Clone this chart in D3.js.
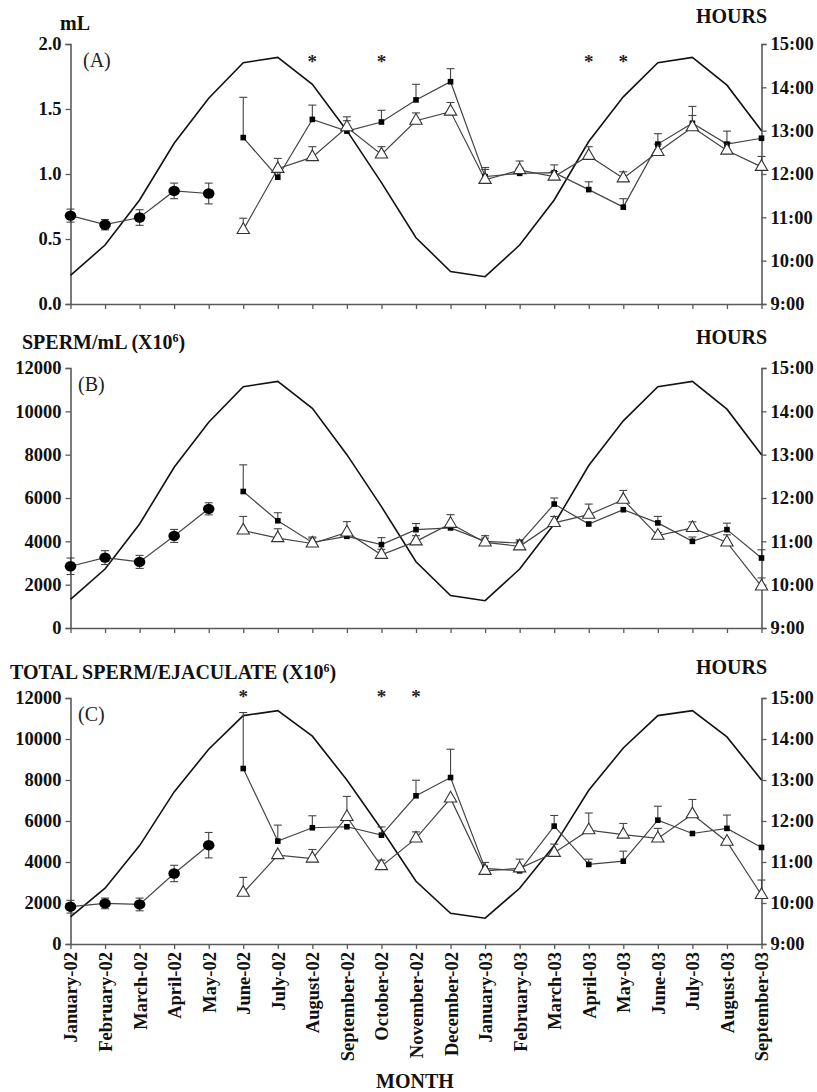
<!DOCTYPE html>
<html>
<head>
<meta charset="utf-8">
<script src="https://cdn.jsdelivr.net/npm/d3@7"></script>
<style>
    html, body { margin: 0; padding: 0; background: #ffffff; }
    svg { display: block; }
</style>
</head>
<body>
<div id="chart"></div>
<script>
(function () {
    "use strict";

    const months = [
        "January-02", "February-02", "March-02", "April-02", "May-02", "June-02",
        "July-02", "August-02", "September-02", "October-02", "November-02", "December-02",
        "January-03", "February-03", "March-03", "April-03", "May-03", "June-03",
        "July-03", "August-03", "September-03"
    ];

    // day length, hours (right axis, same in all panels)
    const dayHours = [9.66, 10.36, 11.4, 12.71, 13.75, 14.57, 14.69, 14.07, 13.0, 11.8, 10.53,
        9.75, 9.63, 10.36, 11.4, 12.75, 13.78, 14.57, 14.69, 14.05, 13.0];
    const hourTicks = [9, 10, 11, 12, 13, 14, 15];

    // circles: January-02 .. May-02; squares and triangles: June-02 .. September-03
    const volCircle = [0.68, 0.61, 0.665, 0.87, 0.85];
    const volCircleErr = [0.05, 0.04, 0.06, 0.06, 0.08];
    const volSquare = [1.28, 0.975, 1.42, 1.33, 1.40, 1.57, 1.71, 0.98, 1.005, 1.01, 0.88, 0.745, 1.23, 1.39, 1.23, 1.275];
    const volSquareErr = [0.31, 0.05, 0.11, 0.08, 0.09, 0.12, 0.1, 0.07, 0.04, 0.06, 0.06, 0.065, 0.08, 0.13, 0.1, 0];
    const volTriangle = [0.57, 1.04, 1.13, 1.36, 1.15, 1.41, 1.48, 0.955, 1.03, 0.98, 1.14, 0.967, 1.17, 1.36, 1.18, 1.055];
    const volTriangleErr = [0.09, 0.08, 0.08, 0.08, 0.06, 0.06, 0.07, 0.08, 0.07, 0.04, 0.07, 0.05, 0.06, 0.09, 0.06, 0.08];

    const concCircle = [2850, 3250, 3050, 4250, 5500];
    const concCircleErr = [380, 320, 300, 300, 280];
    const concSquare = [6300, 4950, 3950, 4230, 3850, 4540, 4620, 4000, 3920, 5720, 4800, 5460, 4850, 4000, 4540, 3230];
    const concSquareErr = [1230, 370, 250, 100, 320, 280, 0, 260, 150, 280, 0, 0, 300, 200, 300, 380];
    const concTriangle = [4500, 4150, 3900, 4410, 3380, 4000, 4810, 3950, 3770, 4850, 5230, 5920, 4260, 4620, 3950, 1920];
    const concTriangleErr = [650, 430, 250, 500, 250, 260, 420, 200, 200, 300, 490, 430, 150, 280, 350, 390];

    const totalCircle = [1820, 1980, 1930, 3440, 4820];
    const totalCircleErr = [310, 260, 310, 400, 620];
    const totalSquare = [8560, 5020, 5670, 5720, 5310, 7230, 8120, 3690, 3570, 5750, 3880, 4040, 6040, 5390, 5640, 4710];
    const totalSquareErr = [2730, 780, 585, 0, 400, 760, 1380, 290, 0, 520, 260, 490, 680, 0, 650, 0];
    const totalTriangle = [2500, 4340, 4170, 6200, 3800, 5150, 7100, 3570, 3690, 4450, 5550, 5340, 5150, 6330, 4990, 2390];
    const totalTriangleErr = [750, 0, 440, 1000, 290, 320, 0, 0, 450, 420, 840, 540, 490, 720, 0, 730];

    const volTicks = [0, 0.5, 1, 1.5, 2];
    const countTicks = [0, 2000, 4000, 6000, 8000, 10000, 12000];

    const volStars = ["August-02", "October-02", "April-03", "May-03"];
    const totalStars = ["June-02", "October-02", "November-02"];

    const circleMonths = months.slice(0, 5);
    const pairMonths = months.slice(5);

    function pack(keys, values, errs) {
        return keys.map((m, i) => ({ month: m, value: values[i], err: errs[i] }));
    }

    const panels = [
        {
            tag: "(A)", title: "mL", top: 44, bottom: 304, max: 2, ticks: volTicks,
            fmt: d3.format(".1f"), stars: volStars,
            circles: pack(circleMonths, volCircle, volCircleErr),
            squares: pack(pairMonths, volSquare, volSquareErr),
            triangles: pack(pairMonths, volTriangle, volTriangleErr)
        },
        {
            tag: "(B)", title: "SPERM/mL (X10", top: 368, bottom: 628, max: 12000, ticks: countTicks,
            fmt: d3.format("d"), stars: [],
            circles: pack(circleMonths, concCircle, concCircleErr),
            squares: pack(pairMonths, concSquare, concSquareErr),
            triangles: pack(pairMonths, concTriangle, concTriangleErr)
        },
        {
            tag: "(C)", title: "TOTAL SPERM/EJACULATE (X10", top: 698, bottom: 944, max: 12000, ticks: countTicks,
            fmt: d3.format("d"), stars: totalStars,
            circles: pack(circleMonths, totalCircle, totalCircleErr),
            squares: pack(pairMonths, totalSquare, totalSquareErr),
            triangles: pack(pairMonths, totalTriangle, totalTriangleErr)
        }
    ];

    const width = 817;
    const height = 1092;
    const serif = "'Liberation Serif', 'Times New Roman', Times, serif";
    const axisColor = "#5a5a5a";
    const dataColor = "#444444";

    const svg = d3.select("#chart")
        .append("svg")
        .attr("width", width)
        .attr("height", height)
        .style("font-family", serif);

    const x = d3.scalePoint()
        .domain(months)
        .range([70.5, 761.5]);

    panels.forEach((p, idx) => {
        const y = d3.scaleLinear().domain([0, p.max]).range([p.bottom, p.top]);
        const yh = d3.scaleLinear().domain([9, 15]).range([p.bottom, p.top]);
        const g = svg.append("g");

        // titles
        const title = g.append("text")
            .attr("x", idx === 0 ? 60 : (idx === 1 ? 22 : 10))
            .attr("y", p.top - (idx === 0 ? 14 : 19))
            .attr("font-size", 20)
            .attr("font-weight", "bold")
            .attr("fill", "#111")
            .text(p.title);
        if (idx > 0) {
            title.append("tspan").attr("dy", -7).attr("font-size", 12).text("6");
            title.append("tspan").attr("dy", 7).text(")");
        }

        g.append("text")
            .attr("x", 696)
            .attr("y", p.top - (idx === 0 ? 21 : 24))
            .attr("font-size", 20)
            .attr("font-weight", "bold")
            .attr("fill", "#111")
            .text("HOURS");

        g.append("text")
            .attr("x", idx === 0 ? 83 : 78)
            .attr("y", p.top + 23)
            .attr("font-size", 20)
            .attr("fill", "#222")
            .text(p.tag);

        // left axis
        const left = g.append("g")
            .attr("transform", "translate(70.5,0)")
            .call(d3.axisLeft(y).tickValues(p.ticks).tickFormat(p.fmt).tickSize(5).tickPadding(4));
        // right axis
        const right = g.append("g")
            .attr("transform", "translate(761.5,0)")
            .call(d3.axisRight(yh).tickValues(hourTicks).tickFormat((d) => d + ":00").tickSize(5).tickPadding(4));
        // bottom axis
        const bottom = g.append("g")
            .attr("transform", `translate(0,${p.bottom})`)
            .call(d3.axisBottom(x).tickSize(5).tickSizeOuter(0).tickFormat(idx === 2 ? null : ""));

        [left, right, bottom].forEach((ax) => {
            ax.select(".domain").attr("stroke", axisColor).attr("stroke-width", 1.6);
            ax.selectAll(".tick line").attr("stroke", axisColor).attr("stroke-width", 1.3);
            ax.selectAll("text")
                .attr("font-family", serif)
                .attr("font-size", 18.5)
                .attr("font-weight", "bold")
                .attr("fill", "#111");
        });

        if (idx === 2) {
            bottom.selectAll(".tick text")
                .attr("transform", "rotate(-90)")
                .attr("text-anchor", "end")
                .attr("x", -8)
                .attr("y", 0)
                .attr("dy", "0.35em");
        }

        // day length
        g.append("path")
            .datum(dayHours)
            .attr("fill", "none")
            .attr("stroke", "#111")
            .attr("stroke-width", 1.6)
            .attr("d", d3.line().x((d, i) => x(months[i])).y((d) => yh(d)));

        const line = d3.line().x((d) => x(d.month)).y((d) => y(d.value));

        [p.circles, p.squares, p.triangles].forEach((series) => {
            g.append("path")
                .datum(series)
                .attr("fill", "none")
                .attr("stroke", dataColor)
                .attr("stroke-width", 1.2)
                .attr("d", line);
        });

        // error bars
        function errorBars(series, both) {
            const eg = g.append("g")
                .attr("stroke", dataColor)
                .attr("stroke-width", 1.1);
            series.filter((d) => d.err > 0).forEach((d) => {
                const cx = x(d.month);
                const lo = both ? d.value - d.err : d.value;
                const hi = d.value + d.err;
                eg.append("line").attr("x1", cx).attr("x2", cx).attr("y1", y(lo)).attr("y2", y(hi));
                eg.append("line").attr("x1", cx - 4).attr("x2", cx + 4).attr("y1", y(hi)).attr("y2", y(hi));
                if (both) {
                    eg.append("line").attr("x1", cx - 4).attr("x2", cx + 4).attr("y1", y(lo)).attr("y2", y(lo));
                }
            });
        }
        errorBars(p.circles, true);
        errorBars(p.squares, false);
        errorBars(p.triangles, false);

        g.append("g").selectAll("ellipse")
            .data(p.circles)
            .join("ellipse")
            .attr("cx", (d) => x(d.month))
            .attr("cy", (d) => y(d.value))
            .attr("rx", 5.8)
            .attr("ry", 5.2)
            .attr("fill", "#000");

        g.append("g").selectAll("rect")
            .data(p.squares)
            .join("rect")
            .attr("x", (d) => x(d.month) - 2.8)
            .attr("y", (d) => y(d.value) - 2.8)
            .attr("width", 5.6)
            .attr("height", 5.6)
            .attr("fill", "#000");

        g.append("g").selectAll("path")
            .data(p.triangles)
            .join("path")
            .attr("transform", (d) => `translate(${x(d.month)},${y(d.value)})`)
            .attr("d", d3.symbol(d3.symbolTriangle, 66))
            .attr("fill", "#fff")
            .attr("stroke", "#333")
            .attr("stroke-width", 1.1);

        g.append("g").selectAll("text")
            .data(p.stars)
            .join("text")
            .attr("x", (d) => x(d))
            .attr("y", p.top + (idx === 0 ? 24 : 5))
            .attr("text-anchor", "middle")
            .attr("font-size", 19)
            .attr("font-weight", "bold")
            .attr("fill", "#222")
            .text("*");
    });

    svg.append("text")
        .attr("x", 415)
        .attr("y", 1088)
        .attr("text-anchor", "middle")
        .attr("font-size", 20)
        .attr("font-weight", "bold")
        .attr("fill", "#111")
        .text("MONTH");
})();
</script>
</body>
</html>
